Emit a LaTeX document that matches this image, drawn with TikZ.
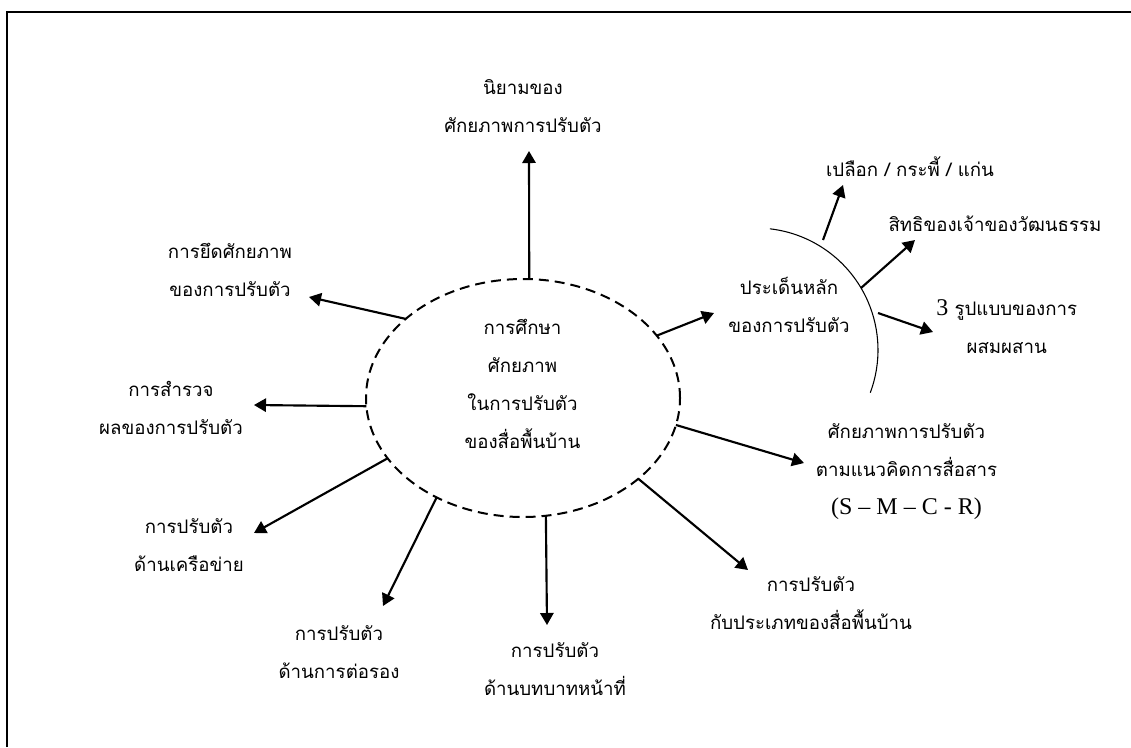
\documentclass[tikz,border=0pt]{standalone}
\usepackage{fontspec}
\setmainfont{Liberation Serif}
\newfontfamily\thaifont[Script=Thai]{Loma}
\usetikzlibrary{arrows.meta,shapes.geometric}
\tikzset{
  lbl/.style={font=\thaifont\fontsize{14}{28.5}\selectfont, align=center, inner sep=0pt},
  arr/.style={line width=1.6pt, -{Triangle[length=9pt,width=10pt]}},
  frame/.style={line width=1.5pt},
}
\begin{document}
\begin{tikzpicture}[x=0.75pt,y=-0.75pt]
\useasboundingbox (0,0) rectangle (1131,747);
\draw[frame] (7.3,747) |- (1131,11.5);

% central ellipse
\node[ellipse, draw, dashed, line width=1.5pt, dash pattern=on 7.5pt off 4.5pt,
      minimum width=235.5pt, minimum height=178.5pt, inner sep=0pt, outer sep=0pt] (e) at (523,398) {};
\node[lbl] (c) at (522.5,383.7) {การศึกษา\\ศักยภาพ\\ในการปรับตัว\\ของสื่อพื้นบ้าน};

% labels
\node[lbl] (n1) at (523,106.5) {นิยามของ\\ศักยภาพการปรับตัว};
\node[lbl] (n2) at (230,270) {การยึดศักยภาพ\\ของการปรับตัว};
\node[lbl] (n3) at (171,407.5) {การสำรวจ\\ผลของการปรับตัว};
\node[lbl] (n4) at (189,544.7) {การปรับตัว\\ด้านเครือข่าย};
\node[lbl] (n5) at (339,651.7) {การปรับตัว\\ด้านการต่อรอง};
\node[lbl] (n6) at (555,669) {การปรับตัว\\ด้านบทบาทหน้าที่};
\node[lbl] (n7) at (906.5,472) {ศักยภาพการปรับตัว\\ตามแนวคิดการสื่อสาร\\{\rmfamily\fontsize{18}{28.5}\selectfont (S – M – C - R)}};
\node[lbl] (n8) at (811,603) {การปรับตัว\\กับประเภทของสื่อพื้นบ้าน};
\node[lbl] (n9) at (789,305.3) {ประเด็นหลัก\\ของการปรับตัว};
\node[lbl] (n10) at (910,166.7) {เปลือก / กระพี้ / แก่น};
\node[lbl] (n11) at (995,224) {สิทธิของเจ้าของวัฒนธรรม};
\node[lbl] (n12) at (1006.7,327) {{\rmfamily\fontsize{18}{28.5}\selectfont 3} รูปแบบของการ\\ผสมผสาน};

% arrow tips
\coordinate (t1) at (529,151);
\coordinate (t2) at (309,297);
\coordinate (t3) at (254,405);
\coordinate (t4) at (254,533);
\coordinate (t5) at (383,606);
\coordinate (t6) at (547,625);
\coordinate (t7) at (804,463);
\coordinate (t8) at (748,570);
\coordinate (t9) at (714,313);
\coordinate (t10) at (843,185);
\coordinate (t11) at (915,240);
\coordinate (t12) at (933,332);

% arrows from ellipse
\draw[arr] (e.87.1) -- (t1);
\draw[arr] (e.146.2) -- (t2);
\draw[arr] (e.183.3) -- (t3);
\draw[arr] (e.204.6) -- (t4);
\draw[arr] (e.229.6) -- (t5);
\draw[arr] (e.281.5) -- (t6);
\draw[arr] (e.-10.1) -- (t7);
\draw[arr] (e.-35.5) -- (t8);
\draw[arr] (e.25.2) -- (t9);

% arc around main issues
\coordinate (arcc) at (756,350);
\draw[line width=0.8pt] (arcc) ++(-83.5:122) arc[start angle=-83.5, end angle=20.5, radius=122];
\coordinate (s10) at (823,240);
\coordinate (s11) at (861,288);
\coordinate (s12) at (878,313);
\draw[arr] (s10) -- (t10);
\draw[arr] (s11) -- (t11);
\draw[arr] (s12) -- (t12);
\end{tikzpicture}
\end{document}
